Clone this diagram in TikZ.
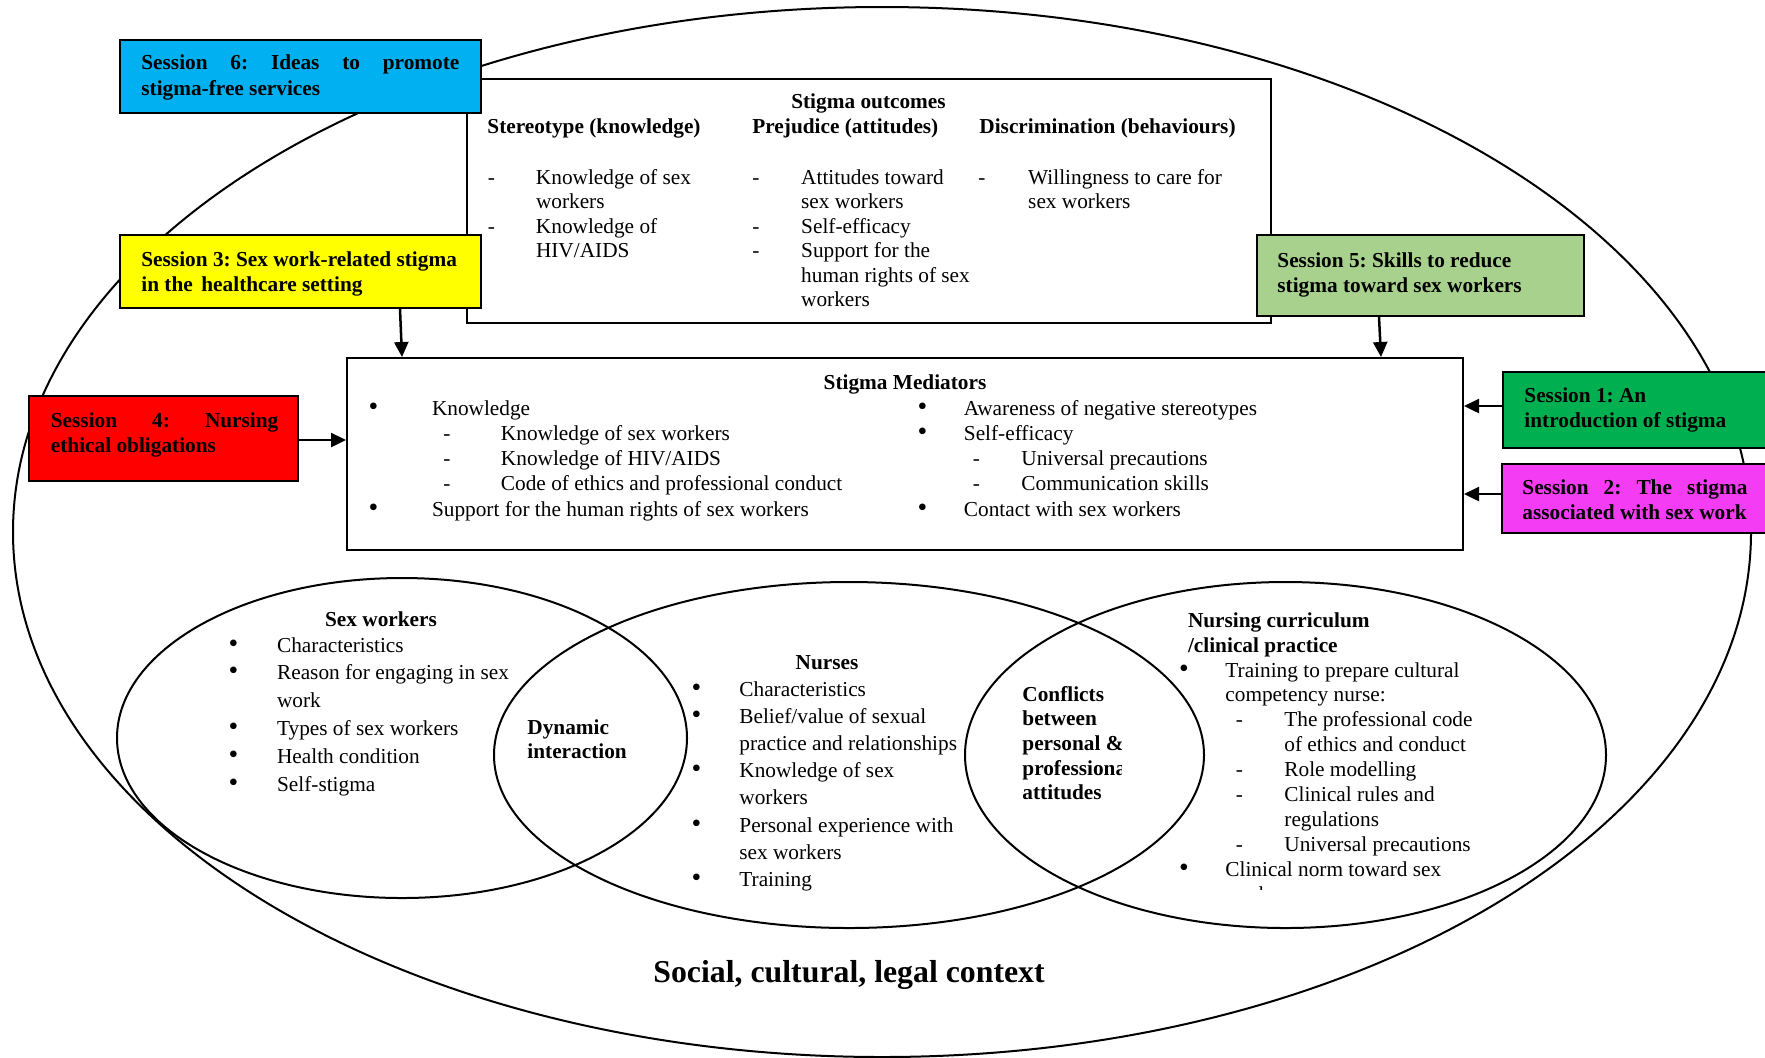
\documentclass[tikz,border=0pt]{standalone}
\usepackage{fontspec}
\usepackage{graphicx}
\setmainfont{Liberation Serif}
\usetikzlibrary{arrows.meta,calc}

\definecolor{sesblue}{HTML}{00B0F0}
\definecolor{sesyellow}{HTML}{FFFF00}
\definecolor{sesred}{HTML}{FF0000}
\definecolor{seslight}{HTML}{A9D18E}
\definecolor{sesgreen}{HTML}{00B050}
\definecolor{sesmagenta}{HTML}{F33CF3}

% one drawing unit
\newlength\px \setlength\px{0.5pt}
\newcommand\bodyfont[1]{\fontsize{10.65pt}{#1}\selectfont\frenchspacing}
\newcommand\txtlines[1]{\begin{tabular}[t]{@{}l@{}}#1\end{tabular}}
\newcommand\bul{\scalebox{1.3}{\textbullet}}
% list row: marker centred at #1, text starting at #3
\newcommand\itm[4]{\makebox[0pt][l]{\hspace*{#1\px}\makebox[0pt]{#2}}\hspace*{#3\px}#4}

\begin{document}
\begin{tikzpicture}[x=0.5pt,y=-0.5pt,
  box/.style={draw, line width=1pt, rectangle, inner sep=0pt},
  txt/.style={anchor=base west, inner sep=0pt},
  ctr/.style={anchor=base, inner sep=0pt},
  arr/.style={line width=1.25pt, -{Triangle[length=7.5pt,width=7pt]}},
  ring/.style={line width=1pt}]
\useasboundingbox (0,0) rectangle (1765,1057);

% social, cultural, legal context
\draw[ring] (882,532) ellipse [x radius=434.5pt, y radius=262.5pt];

% overlapping spheres
\draw[ring] (402,738) ellipse [x radius=142.5pt, y radius=80pt];
\draw[ring] (849,755) ellipse [x radius=177.5pt, y radius=86.5pt];
\draw[ring] (1285.5,755) ellipse [x radius=160.25pt, y radius=86.5pt];

% main frames
\node[box, fill=white, line width=1.2pt, minimum width=402pt, minimum height=122pt] (out) at (869,201) {};
\node[box, fill=white, minimum width=558pt, minimum height=96pt] (med) at (905,454) {};

% session boxes
\node[box, fill=sesblue, minimum width=180.5pt, minimum height=36.5pt] (s6) at (300.5,76.5) {};
\node[box, fill=sesyellow, minimum width=180.5pt, minimum height=36.5pt] (s3) at (300.5,271.5) {};
\node[box, fill=sesred, minimum width=134.5pt, minimum height=42.5pt] (s4) at (163.5,438.5) {};
\node[box, fill=seslight, minimum width=163.5pt, minimum height=40.5pt] (s5) at (1420.5,275.5) {};
\node[box, fill=sesgreen, minimum width=143.5pt, minimum height=38pt] (s1) at (1646.5,410) {};
\node[box, fill=sesmagenta, minimum width=144pt, minimum height=34.5pt] (s2) at (1646,498.5) {};

% session labels
\node[txt, font=\bodyfont{13pt}\bfseries] (s6t) at (141,69.5)
  {\txtlines{\makebox[318\px][s]{Session 6: Ideas to promote}\\ stigma-free services}};
\node[txt, font=\bodyfont{12.5pt}\bfseries] (s3t) at (141,266)
  {\txtlines{Session 3: Sex work-related stigma\\ in the\hspace{0.4em}healthcare setting}};
\node[txt, font=\bodyfont{12.5pt}\bfseries] (s4t) at (50.5,427)
  {\txtlines{\makebox[227.5\px][s]{Session 4: Nursing}\\ ethical obligations}};
\node[txt, font=\bodyfont{12.5pt}\bfseries] (s5t) at (1277,267)
  {\txtlines{Session 5: Skills to reduce\\ stigma toward sex workers}};
\node[txt, font=\bodyfont{12.5pt}\bfseries] (s1t) at (1524,402)
  {\txtlines{Session 1: An\\ introduction of stigma}};
\node[txt, font=\bodyfont{12.5pt}\bfseries] (s2t) at (1522,494)
  {\txtlines{\makebox[225\px][s]{Session 2: The stigma}\\ associated with sex work}};

% stigma outcomes
\node[ctr, font=\bodyfont{12pt}\bfseries] (outh) at (868.5,108) {Stigma outcomes};
\node[txt, font=\bodyfont{12pt}\bfseries] (c1h) at (487,133) {Stereotype (knowledge)};
\node[txt, font=\bodyfont{12pt}\bfseries] (c2h) at (752,133) {Prejudice (attitudes)};
\node[txt, font=\bodyfont{12pt}\bfseries] (c3h) at (979,133) {Discrimination (behaviours)};
\node[txt, font=\bodyfont{12.25pt}] (c1) at (491,184) {\txtlines{%
  \itm{0}{-}{44.6}{Knowledge of sex}\\
  \itm{0}{}{44.6}{workers}\\
  \itm{0}{-}{44.6}{Knowledge of}\\
  \itm{0}{}{44.6}{HIV/AIDS}}};
\node[txt, font=\bodyfont{12.25pt}] (c2) at (755.5,184) {\txtlines{%
  \itm{0}{-}{45.3}{Attitudes toward}\\
  \itm{0}{}{45.3}{sex workers}\\
  \itm{0}{-}{45.3}{Self-efficacy}\\
  \itm{0}{-}{45.3}{Support for the}\\
  \itm{0}{}{45.3}{human rights of sex}\\
  \itm{0}{}{45.3}{workers}}};
\node[txt, font=\bodyfont{12.25pt}] (c3) at (981.6,184) {\txtlines{%
  \itm{0}{-}{46.2}{Willingness to care for}\\
  \itm{0}{}{46.2}{sex workers}}};

% stigma mediators
\node[ctr, font=\bodyfont{12pt}\bfseries] (medh) at (905,389) {Stigma Mediators};
\node[txt, font=\bodyfont{12.65pt}] (m1) at (373,415) {\txtlines{%
  \itm{0}{\bul}{58.6}{Knowledge}\\
  \itm{73.6}{-}{127.6}{Knowledge of sex workers}\\
  \itm{73.6}{-}{127.6}{Knowledge of HIV/AIDS}\\
  \itm{73.6}{-}{127.6}{Code of ethics and professional conduct}\\
  \itm{0}{\bul}{58.6}{Support for the human rights of sex workers}}};
\node[txt, font=\bodyfont{12.65pt}] (m2) at (922,415) {\txtlines{%
  \itm{0}{\bul}{41.5}{Awareness of negative stereotypes}\\
  \itm{0}{\bul}{41.5}{Self-efficacy}\\
  \itm{54}{-}{99}{Universal precautions}\\
  \itm{54}{-}{99}{Communication skills}\\
  \itm{0}{\bul}{41.5}{Contact with sex workers}}};

% sex workers
\node[ctr, font=\bodyfont{12pt}\bfseries] (swh) at (381,626) {Sex workers};
\node[txt, font=\bodyfont{13.9pt}] (sw) at (233,652) {\txtlines{%
  \itm{0}{\bul}{43.7}{Characteristics}\\
  \itm{0}{\bul}{43.7}{Reason for engaging in sex}\\
  \itm{0}{}{43.7}{work}\\
  \itm{0}{\bul}{43.7}{Types of sex workers}\\
  \itm{0}{\bul}{43.7}{Health condition}\\
  \itm{0}{\bul}{43.7}{Self-stigma}}};

% nurses
\node[ctr, font=\bodyfont{12pt}\bfseries] (nuh) at (827,669) {Nurses};
\node[txt, font=\bodyfont{13.6pt}] (nu) at (696,696) {\txtlines{%
  \itm{0}{\bul}{43}{Characteristics}\\
  \itm{0}{\bul}{43}{Belief/value of sexual}\\
  \itm{0}{}{43}{practice and relationships}\\
  \itm{0}{\bul}{43}{Knowledge of sex}\\
  \itm{0}{}{43}{workers}\\
  \itm{0}{\bul}{43}{Personal experience with}\\
  \itm{0}{}{43}{sex workers}\\
  \itm{0}{\bul}{43}{Training}}};

% overlaps
\node[txt, font=\bodyfont{12pt}\bfseries] (dyn) at (527,734)
  {\txtlines{Dynamic\\ interaction}};
\begin{scope}
  \clip (1000,660) rectangle (1121,820);
  \node[txt, font=\bodyfont{12.35pt}\bfseries] (conf) at (1022,701)
    {\txtlines{Conflicts\\ between\\ personal \&\\ professional\\ attitudes}};
\end{scope}

% nursing curriculum
\node[txt, font=\bodyfont{12.5pt}\bfseries] (ncu) at (1187.6,627)
  {\txtlines{Nursing curriculum\\ /clinical practice}};
\node[txt, font=\bodyfont{12.45pt}] (ncl) at (1183.6,677) {\txtlines{%
  \itm{0}{\bul}{41.4}{Training to prepare cultural}\\
  \itm{0}{}{41.4}{competency nurse:}\\
  \itm{55.4}{-}{100.4}{The professional code}\\
  \itm{0}{}{100.4}{of ethics and conduct}\\
  \itm{55.4}{-}{100.4}{Role modelling}\\
  \itm{55.4}{-}{100.4}{Clinical rules and}\\
  \itm{0}{}{100.4}{regulations}\\
  \itm{55.4}{-}{100.4}{Universal precautions}\\
  \itm{0}{\bul}{41.4}{Clinical norm toward sex}}};
\begin{scope}
  \clip (1200,880) rectangle (1300,889.5);
  \node[txt, font=\bodyfont{12.45pt}] (ncw) at (1225,901) {workers};
\end{scope}

% context caption
\node[txt, font=\fontsize{15.9pt}{18pt}\selectfont\bfseries] (ctx) at (653,982)
  {Social, cultural, legal context};

% session links
\coordinate (a4) at ($(s4.east)+(0,1.5)$);
\coordinate (a1) at ($(s1.west)+(0,-4)$);
\coordinate (a2) at ($(s2.west)+(0,-4.5)$);
\draw[arr] ($(s3.south west)+(281,0)$) -- ($(med.north west)+(56,0)$);
\draw[arr] ($(s5.south west)+(123,0)$) -- ($(med.north west)+(1035,0)$);
\draw[arr] (a4) -- (a4 -| med.west);
\draw[arr] (a1) -- (a1 -| med.east);
\draw[arr] (a2) -- (a2 -| med.east);
\end{tikzpicture}
\end{document}
